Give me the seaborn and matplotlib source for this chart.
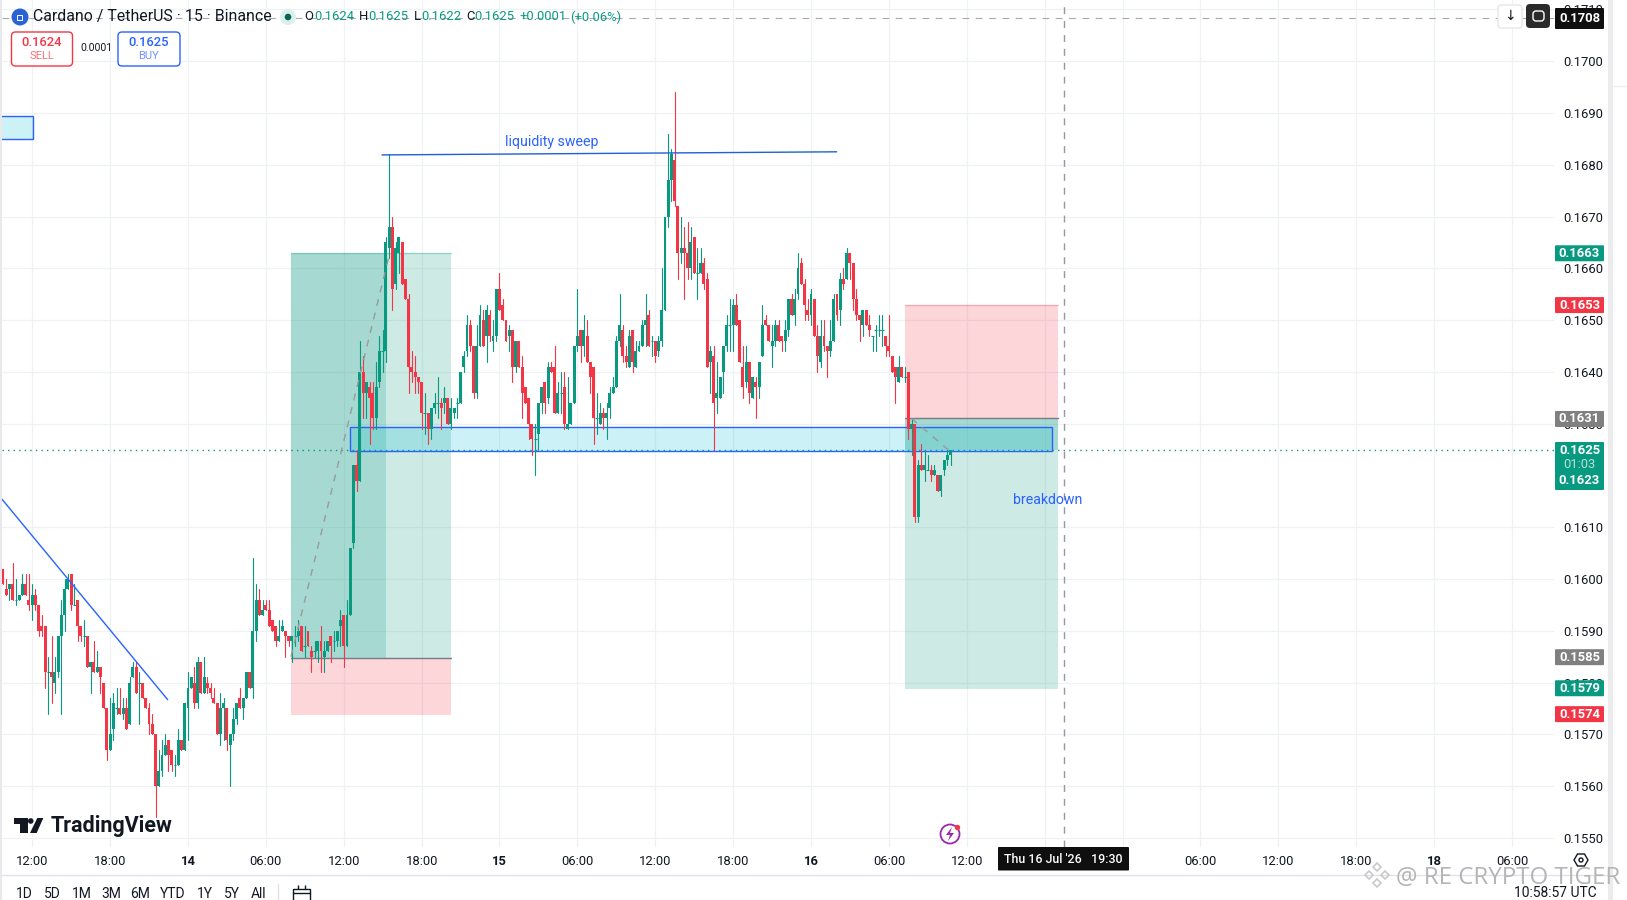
import numpy as np
import pandas as pd
import seaborn as sns
import matplotlib
matplotlib.use("Agg")
import matplotlib.pyplot as plt
from matplotlib.patches import Circle, FancyBboxPatch, Polygon, Rectangle

# ADA/USDT 15m candles, in units of 0.0001
opens = [
    1602,1598,1598,1599,1596,1596,1597,1599,1596,1595,1597,1595,1591,1591,1582,1582,1580,1582,1589,1593,
    1598,1601,1595,1596,1591,1589,1589,1583,1584,1582,1583,1580,1575,1567,1571,1575,1575,1574,1575,1572,
    1581,1583,1580,1580,1577,1575,1572,1570,1560,1563,1566,1569,1567,1564,1564,1569,1567,1575,1579,1580,
    1576,1584,1578,1580,1579,1577,1576,1570,1575,1575,1568,1570,1573,1577,1575,1577,1582,1579,1590,1596,
    1593,1595,1594,1592,1591,1588,1590,1590,1589,1588,1589,1589,1591,1587,1590,1586,1586,1586,1588,1585,
    1586,1589,1588,1588,1591,1593,1587,1593,1607,1622,1619,1640,1636,1637,1636,1631,1638,1644,1644,1664,
    1668,1657,1663,1665,1658,1654,1641,1640,1639,1638,1632,1632,1629,1633,1634,1634,1634,1635,1630,1632,
    1634,1634,1641,1644,1649,1645,1636,1645,1650,1647,1651,1646,1647,1656,1653,1650,1647,1648,1641,1646,
    1641,1637,1635,1630,1627,1628,1634,1638,1635,1641,1641,1632,1636,1637,1629,1630,1634,1645,1648,1645,
    1647,1642,1641,1631,1630,1632,1631,1633,1636,1637,1646,1648,1643,1641,1648,1641,1644,1645,1649,1651,
    1646,1646,1644,1646,1652,1670,1677,1681,1672,1663,1664,1663,1660,1666,1659,1659,1661,1658,1642,1643,
    1635,1635,1640,1645,1649,1649,1653,1650,1641,1638,1642,1635,1638,1637,1643,1650,1649,1645,1646,1649,
    1647,1646,1648,1654,1651,1655,1661,1657,1652,1651,1654,1647,1642,1647,1645,1644,1646,1655,1652,1658,
    1658,1663,1661,1654,1651,1649,1652,1649,1647,1648,1648,1648,1647,1645,1643,1641,1638,1641,1639,1640,
    1629,1630,1612,1622,1621,1621,1621,1620,1620,1617,1621,1623,1624,
]
highs = [
    1602,1600,1599,1603,1600,1597,1601,1601,1601,1599,1598,1595,1593,1591,1585,1589,1585,1589,1596,1600,
    1601,1601,1599,1596,1591,1592,1589,1584,1588,1586,1583,1580,1575,1577,1578,1579,1579,1577,1577,1581,
    1584,1584,1582,1580,1577,1576,1574,1570,1567,1569,1570,1569,1567,1566,1571,1569,1576,1582,1581,1583,
    1585,1584,1585,1581,1580,1579,1576,1578,1577,1575,1570,1575,1576,1579,1577,1582,1582,1604,1599,1598,
    1596,1596,1596,1592,1591,1592,1592,1590,1589,1589,1591,1592,1591,1591,1590,1587,1588,1588,1591,1588,
    1588,1589,1590,1590,1594,1593,1596,1606,1622,1625,1646,1643,1638,1638,1638,1642,1647,1648,1666,1682,
    1670,1665,1666,1665,1658,1655,1644,1643,1639,1638,1636,1632,1633,1636,1639,1635,1637,1635,1635,1633,
    1635,1640,1644,1651,1650,1645,1649,1653,1652,1653,1652,1650,1656,1659,1654,1650,1649,1648,1646,1646,
    1643,1637,1635,1630,1630,1634,1637,1638,1642,1642,1645,1638,1640,1640,1639,1634,1645,1656,1648,1651,
    1650,1642,1641,1636,1634,1633,1634,1637,1639,1647,1655,1649,1645,1648,1648,1646,1646,1650,1655,1652,
    1647,1646,1647,1660,1670,1686,1683,1694,1672,1670,1668,1669,1668,1666,1664,1664,1662,1659,1645,1645,
    1642,1639,1645,1651,1654,1654,1655,1650,1645,1645,1642,1639,1639,1642,1653,1651,1649,1649,1650,1650,
    1647,1650,1654,1655,1656,1663,1662,1658,1654,1656,1654,1649,1650,1650,1645,1650,1655,1655,1659,1660,
    1664,1663,1661,1656,1651,1652,1652,1651,1647,1649,1651,1651,1647,1651,1643,1641,1643,1641,1641,1640,
    1631,1630,1623,1626,1625,1624,1622,1622,1620,1620,1623,1625,1625,
]
lows = [
    1599,1597,1596,1596,1595,1596,1597,1597,1594,1592,1594,1589,1589,1579,1574,1576,1578,1581,1574,1590,
    1598,1594,1595,1588,1588,1587,1583,1578,1582,1582,1578,1575,1565,1567,1569,1574,1574,1573,1571,1572,
    1581,1578,1572,1577,1575,1570,1570,1554,1560,1562,1566,1563,1563,1562,1564,1567,1567,1569,1579,1575,
    1575,1578,1578,1578,1577,1576,1570,1568,1569,1567,1560,1569,1572,1575,1573,1577,1579,1577,1588,1593,
    1593,1594,1591,1590,1587,1588,1590,1585,1587,1584,1587,1588,1586,1585,1587,1582,1585,1584,1582,1582,
    1586,1584,1586,1587,1587,1583,1587,1593,1606,1617,1619,1631,1631,1626,1629,1629,1637,1640,1642,1662,
    1652,1656,1659,1657,1654,1636,1638,1636,1636,1629,1628,1626,1627,1632,1631,1629,1632,1630,1629,1631,
    1631,1634,1640,1643,1644,1635,1635,1645,1645,1642,1646,1644,1646,1652,1650,1646,1644,1638,1640,1641,
    1631,1634,1627,1624,1620,1625,1632,1632,1634,1640,1632,1632,1632,1629,1629,1630,1634,1644,1642,1643,
    1642,1636,1626,1628,1630,1629,1627,1631,1636,1637,1645,1642,1641,1641,1640,1641,1644,1645,1645,1645,
    1643,1642,1643,1645,1652,1668,1673,1672,1658,1661,1654,1658,1658,1659,1654,1659,1656,1641,1636,1625,
    1632,1635,1636,1644,1644,1644,1649,1642,1635,1637,1634,1635,1631,1635,1643,1649,1646,1641,1645,1646,
    1644,1644,1647,1651,1649,1654,1657,1650,1650,1649,1647,1640,1641,1644,1639,1643,1646,1650,1649,1656,
    1658,1658,1652,1650,1646,1647,1649,1647,1644,1644,1647,1645,1643,1643,1640,1634,1638,1639,1638,1627,
    1624,1611,1611,1621,1619,1621,1619,1620,1617,1616,1620,1622,1622,
]
closes = [
    1599,1597,1599,1596,1596,1597,1599,1597,1595,1597,1595,1590,1590,1582,1582,1581,1582,1589,1593,1598,
    1600,1595,1595,1591,1589,1589,1583,1584,1582,1583,1581,1575,1567,1570,1576,1575,1574,1575,1571,1580,
    1583,1578,1580,1577,1575,1572,1570,1560,1563,1566,1568,1566,1564,1564,1569,1567,1576,1579,1581,1576,
    1584,1578,1581,1579,1578,1576,1570,1575,1576,1569,1570,1573,1576,1575,1577,1582,1579,1590,1596,1593,
    1594,1594,1591,1590,1588,1589,1591,1589,1588,1589,1589,1590,1586,1587,1587,1585,1586,1588,1586,1586,
    1588,1587,1588,1590,1592,1587,1593,1606,1622,1619,1640,1636,1638,1635,1631,1637,1644,1644,1665,1668,
    1656,1664,1666,1657,1654,1641,1640,1639,1638,1632,1632,1629,1633,1634,1634,1633,1635,1630,1633,1633,
    1634,1640,1643,1649,1645,1636,1645,1651,1645,1652,1647,1647,1656,1652,1650,1646,1648,1641,1646,1641,
    1636,1634,1630,1627,1627,1634,1637,1634,1641,1640,1632,1636,1636,1630,1630,1634,1645,1647,1645,1648,
    1642,1639,1631,1631,1632,1631,1632,1636,1637,1646,1649,1643,1642,1647,1642,1644,1645,1649,1650,1645,
    1646,1643,1646,1652,1670,1677,1682,1673,1663,1664,1663,1660,1665,1659,1659,1661,1657,1641,1644,1634,
    1636,1639,1645,1649,1649,1653,1649,1642,1637,1642,1636,1639,1637,1642,1649,1649,1646,1646,1649,1646,
    1646,1648,1654,1651,1654,1660,1657,1653,1651,1655,1647,1643,1647,1645,1644,1646,1654,1651,1658,1657,
    1663,1661,1654,1651,1650,1652,1649,1648,1647,1648,1648,1648,1645,1644,1640,1639,1641,1639,1639,1629,
    1630,1612,1622,1621,1622,1621,1620,1621,1617,1620,1623,1624,1625,
]

# price axis (0.1620 is fully under the last price badge)
price_ticks = [1550 + 10 * k for k in range(17) if k != 7]

# time axis: one label every 24 bars from bar 9 (13 Jul 12:00); two sit under the crosshair label
time_labels = ["12:00", "18:00", "14", "06:00", "12:00", "18:00", "15", "06:00", "12:00", "18:00",
               "16", "06:00", "12:00", "", "", "06:00", "12:00", "18:00", "18", "06:00"]
first_tick_bar = 9
bars_per_label = 24

# drawings on the chart: bar numbers and prices
long_bars = [88.75, 118.0, 138.05]
long_levels = [1663, 1584.8, 1573.8]      # target, entry, stop
short_bars = [277.9, 325.05]
short_levels = [1653, 1631, 1578.8]       # stop, entry, target
last_price = 1625
zone_bars = [107.0, 323.2]
zone_levels = [1629.3, 1624.8]
old_zone_bars = [-1, 9.15]
old_zone_levels = [1689.4, 1684.9]
sweep_bars = [116.8, 256.9]
sweep_levels = [1681.9, 1682.5]
trend_bars = [-0.3, 50.75]
trend_levels = [1615.4, 1576.7]
long_path_bars = [88.75, 119.2]
long_path_levels = [1585, 1663]
short_path_bars = [280.0, 291.2]
short_path_levels = [1631, 1625]
cross_bar = 327.1
cross_price = 1708.4

# price badges on the right: price, colour
badges = [(1663, "#089981"), (1653, "#f23645"), (1631, "#808080"),
          (1585, "#808080"), (1579, "#089981"), (1574, "#f23645")]

GREEN = "#089981"
RED = "#f23645"
BLUE = "#2962ff"
INK = "#131722"
BAR_PX = 3.245
TICK_PX = 5.178

W, H = 1627, 900
sns.set_theme(style="white")
plt.rcParams["font.family"] = ["Roboto", "DejaVu Sans"]

df = pd.DataFrame({"open": opens, "high": highs, "low": lows, "close": closes}) / 1e4
df["bar"] = np.arange(len(df))
df["up"] = df["close"] >= df["open"]
wicks = df.melt(id_vars=["bar", "up"], value_vars=["low", "high"], value_name="price")


def p(t):
    return t / 1e4


def set_limits():
    ax.set_xlim((left - 3) / BAR_PX, (right - 3) / BAR_PX)
    ax.set_ylim(p(1700 - (bottom - 61.2) / TICK_PX), p(1700 + 61.2 / TICK_PX))


fig = plt.figure(figsize=(W / 100, H / 100), dpi=100)
left, right, bottom = 2, 1554, 846.7
ax = fig.add_axes([left / W, 1 - bottom / H, (right - left) / W, bottom / H])
set_limits()

# grid and axes
ticks_x = [first_tick_bar + bars_per_label * k for k in range(len(time_labels))]
ax.set_xticks(ticks_x)
ax.set_xticklabels(time_labels, fontsize=9.4, color=INK)
for lab, txt in zip(ax.get_xticklabels(), time_labels):
    if txt.isdigit():
        lab.set_fontweight("bold")
ax.set_yticks([p(t) for t in price_ticks])
ax.set_yticklabels([f"{p(t):.4f}" for t in price_ticks], fontsize=9.4, color=INK)
ax.yaxis.tick_right()
ax.tick_params(axis="x", length=0, pad=6.3)
ax.tick_params(axis="y", length=0, pad=6.3)
ax.grid(True, color="#eff1f5", lw=0.9)
ax.set_axisbelow(True)
for s in ax.spines.values():
    s.set_visible(False)

# long position
ax.fill_between(long_bars[::2], p(long_levels[1]), p(long_levels[0]), color=GREEN, alpha=0.2, lw=0, zorder=1)
ax.fill_between(long_bars[:2], p(long_levels[1]), p(long_levels[0]), color=GREEN, alpha=0.2, lw=0, zorder=1)
ax.fill_between(long_bars[::2], p(long_levels[2]), p(long_levels[1]), color=RED, alpha=0.2, lw=0, zorder=1)
ax.plot(long_bars[::2], [p(long_levels[1])] * 2, color="#787b86", lw=1, zorder=2)
ax.plot(long_bars[::2], [p(long_levels[0])] * 2, color=GREEN, alpha=0.3, lw=1, zorder=2)

# short position
ax.fill_between(short_bars, p(short_levels[1]), p(short_levels[0]), color=RED, alpha=0.2, lw=0, zorder=1)
ax.fill_between(short_bars, p(short_levels[2]), p(short_levels[1]), color=GREEN, alpha=0.2, lw=0, zorder=1)
ax.fill_between(short_bars, p(last_price), p(short_levels[1]), color=GREEN, alpha=0.2, lw=0, zorder=1)
ax.plot(short_bars, [p(short_levels[1])] * 2, color="#787b86", lw=1, zorder=2)
ax.plot(short_bars, [p(short_levels[0])] * 2, color=RED, alpha=0.3, lw=1, zorder=2)

# supply zones
for xs, ys in [(zone_bars, zone_levels), (old_zone_bars, old_zone_levels)]:
    ax.add_patch(Rectangle((xs[0], p(ys[1])), xs[1] - xs[0], p(ys[0]) - p(ys[1]),
                           facecolor=(0, 0.737, 0.831, 0.2), edgecolor=BLUE, lw=1, zorder=2))

# last price and crosshair
ax.axhline(p(last_price), color=GREEN, lw=1, ls=(0, (1, 3)), zorder=2)
ax.axvline(cross_bar, color="#9598a1", lw=1, ls=(0, (5, 5)), zorder=2)
ax.axhline(p(cross_price), color="#a6a9b0", lw=0.8, ls=(0, (6, 6)), zorder=2)

# candles
sns.lineplot(data=wicks, x="bar", y="price", hue="up", units="bar", estimator=None,
             palette={True: GREEN, False: RED}, lw=0.8, legend=False, ax=ax, zorder=3)
body_low = df[["open", "close"]].min(axis=1)
body_h = (df["open"] - df["close"]).abs()
colors = np.where(df["up"], GREEN, RED)
ax.bar(df["bar"], body_h, bottom=body_low, width=0.9, color=colors, lw=0, zorder=4)
flat = df[body_h == 0]
ax.hlines(flat["close"], flat["bar"] - 0.45, flat["bar"] + 0.45,
          colors=np.where(flat["up"], GREEN, RED), lw=0.8, zorder=4)
ax.set_xlabel("")
ax.set_ylabel("")

# trend, sweep and position paths
sns.lineplot(x=trend_bars, y=[p(t) for t in trend_levels], color=BLUE, lw=1, ax=ax, zorder=5)
sns.lineplot(x=sweep_bars, y=[p(t) for t in sweep_levels], color="#1f5fd8", lw=1, ax=ax, zorder=5)
ax.plot(long_path_bars, [p(t) for t in long_path_levels], color="#9a9a9a", lw=1, ls=(0, (5, 5)), zorder=5)
ax.plot(short_path_bars, [p(t) for t in short_path_levels], color="#9a9a9a", lw=1, ls=(0, (5, 5)), zorder=5)
ax.text(169.2, p(1684.4), "liquidity sweep", color=BLUE, fontsize=10.2, ha="center", va="center", zorder=6)
ax.text(322.0, p(1615.3), "breakdown", color=BLUE, fontsize=10.2, ha="center", va="center", zorder=6)
set_limits()

# interface chrome, in screen pixels on an overlay
ui = fig.add_axes([0, 0, 1, 1], zorder=5)
ui.set_xlim(0, W)
ui.set_ylim(H, 0)
ui.axis("off")


def price_y(t):
    return 61.2 + (1700 - t) * TICK_PX + 0.5


def label(x, y, s, color=INK, size=9.4, ha="left", **kw):
    ui.text(x, y, s, color=color, fontsize=size, ha=ha, va="center", **kw)


def box(x0, y0, x1, y1, face, edge="none", r=2, lw=1, z=2):
    ui.add_patch(FancyBboxPatch((x0 + r, y0 + r), x1 - x0 - 2 * r, y1 - y0 - 2 * r,
                                boxstyle=f"round,pad={r},rounding_size={r}",
                                facecolor=face, edgecolor=edge, lw=lw, zorder=z))


# side bands
ui.add_patch(Rectangle((0, 0), 2, H, color="#e9e9ec", lw=0))
ui.add_patch(Rectangle((1608, 0), 5, H, color="#ececef", lw=0))
ui.plot([2, 1608], [875, 875], color="#e0e3eb", lw=1)
ui.plot([1613, W], [86, 86], color="#eeeeee", lw=1)

# header
ui.add_patch(Circle((20, 17), 8.5, color="#2a63d4", lw=0))
ui.add_patch(Rectangle((17.5, 14.5), 5, 5, facecolor="none", edgecolor="white", lw=0.7))
label(33, 17, "Cardano / TetherUS · 15 · Binance", size=11.4)
ui.add_patch(Circle((288, 17), 8, color="#dcefeb", lw=0))
ui.add_patch(Circle((288, 17), 3.3, color="#056656", lw=0))
for x, s in [(304, "O"), (359, "H"), (414, "L"), (466, "C")]:
    label(x, 17, s)
for x, s in [(314, "0.1624"), (368, "0.1625"), (421, "0.1622"), (474, "0.1625"),
             (519, "+0.0001"), (570, "(+0.06%)")]:
    label(x, 17, s, color=GREEN)

# buy and sell
box(11.5, 32, 72.5, 66, "white", RED, r=4)
label(42, 42, "0.1624", color=RED, size=9.4, ha="center", fontweight="medium")
label(42, 56, "SELL", color="#f7737d", size=8, ha="center")
label(80, 48, "0.0001", size=7.5)
box(118, 32, 180, 66, "white", BLUE, r=4)
label(149, 42, "0.1625", color=BLUE, size=9.4, ha="center", fontweight="medium")
label(149, 56, "BUY", color="#6f92ff", size=8, ha="center")

# logo
ui.add_patch(Polygon([(14, 818), (27.7, 818), (27.7, 833), (20, 833), (20, 823.7), (14, 823.7)], color=INK, lw=0))
ui.add_patch(Circle((30.7, 821), 2.8, color=INK, lw=0))
ui.add_patch(Polygon([(37.3, 818), (43.3, 818), (36.7, 833), (30, 833)], color=INK, lw=0))
label(51, 826, "TradingView", size=15.5, fontweight="bold")

# right-hand badges
box(1498, 5, 1522, 28, "white", "#e6e6e6", r=3)
label(1510, 16, "↓", size=10, ha="center", family=["DejaVu Sans"])
box(1555, 8, 1604, 29, "#0f0f0f", r=1)
label(1579.5, 18.5, "0.1708", color="white", ha="center", fontweight="bold")
box(1526, 4, 1550, 28, "#2a2a2a", r=4, z=3)
box(1533, 11, 1544, 21, "none", "white", r=3, z=4)
for t, col in badges:
    y = price_y(t)
    box(1555, y - 8, 1604, y + 8, col, r=1)
    label(1579.5, y, f"{t / 1e4:.4f}", color="white", ha="center", fontweight="bold")
box(1555, 442, 1604, 490, GREEN, r=1)
label(1579.5, 450.5, "0.1625", color="white", ha="center", fontweight="bold")
label(1579.5, 465, "01:03", color="#b5e3da", ha="center")
label(1579.5, 481, "0.1623", color="white", ha="center", fontweight="bold")

# crosshair time
box(998, 847, 1129, 870.5, "#0f0f0f", r=1)
label(1063.5, 859.5, "Thu 16 Jul '26   19:30", color="white", size=8.9, ha="center", fontweight="medium")

# bottom strip
for x, s in [(16, "1D"), (44, "5D"), (72, "1M"), (101, "3M"), (130, "6M"), (160, "YTD"),
             (197, "1Y"), (224, "5Y"), (251, "All")]:
    label(x, 894, s, size=10)
ui.plot([278, 278], [884, 900], color="#e0e3eb", lw=1)
ui.add_patch(Rectangle((293, 889), 17, 14, facecolor="none", edgecolor=INK, lw=1))
ui.plot([293, 310], [893, 893], color=INK, lw=1)
ui.plot([298, 305], [887, 887], color=INK, lw=0, ls="none", marker="|", ms=3)
label(1514, 893, "10:58:57 UTC", size=10)

# settings and lightning icons
ui.add_patch(Polygon([(1574, 860), (1577.5, 854), (1584.5, 854), (1588, 860), (1584.5, 866), (1577.5, 866)],
                     facecolor="none", edgecolor=INK, lw=1))
ui.add_patch(Circle((1581, 860), 2, facecolor="none", edgecolor=INK, lw=1))
ui.add_patch(Circle((950, 834), 9.5, facecolor="white", edgecolor="#9c27b0", lw=1.3))
ui.add_patch(Polygon([(952, 827), (946, 835), (950, 835), (948, 841), (954, 833), (950, 833)], color="#9c27b0", lw=0))
ui.add_patch(Circle((957.5, 827.5), 2.7, color=RED, lw=0))

# watermark
for dx, dy in [(0, -8), (-8, 0), (8, 0), (0, 8)]:
    ui.add_patch(Polygon([(1377 + dx, 875 + dy - 4), (1377 + dx + 4, 875 + dy), (1377 + dx, 875 + dy + 4), (1377 + dx - 4, 875 + dy)],
                         facecolor="none", edgecolor="#c9c9c9", lw=1.2, zorder=6))
ui.text(1396, 878, "@ RE CRYPTO TIGER", color="#b5b5b5", fontsize=17.3, ha="left", va="center", zorder=6,
        family=["Open Sans", "DejaVu Sans"])

fig.savefig("out.png", dpi=100, facecolor="white")
